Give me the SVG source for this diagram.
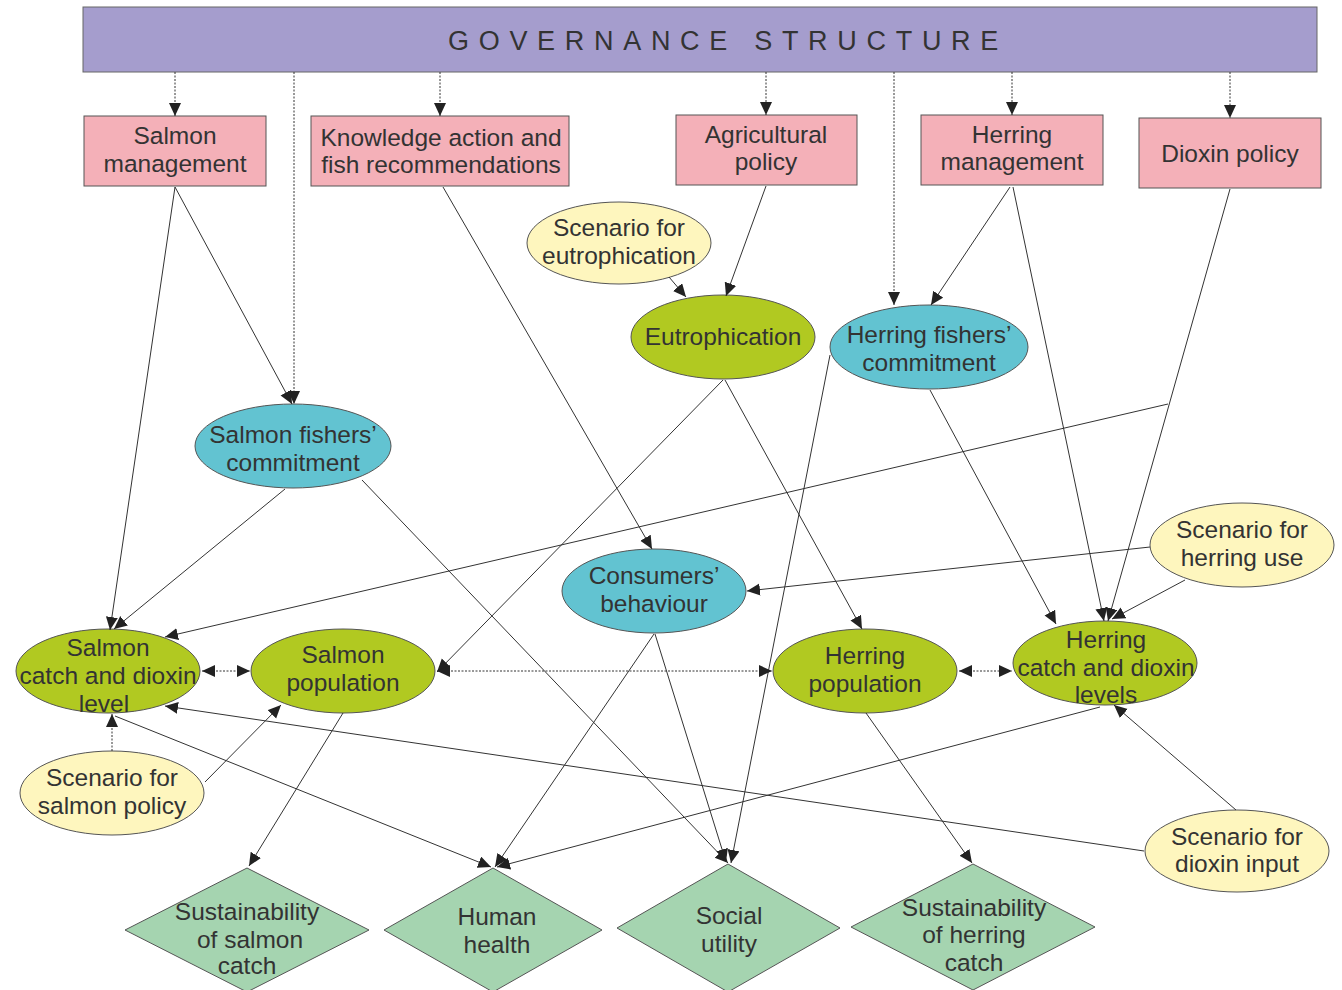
<svg xmlns="http://www.w3.org/2000/svg" width="1342" height="990" viewBox="0 0 1342 990">
<style>
  .t { font-family: "Liberation Sans", Arial, sans-serif; font-size: 24.5px; fill: #333; text-anchor: middle; }
  .banner { fill: #a59dcd; stroke: #666; stroke-width: 1; }
  .pink { fill: #f4b0b8; stroke: #555; stroke-width: 1; }
  .yellow { fill: #fef6be; stroke: #555; stroke-width: 1; }
  .green { fill: #b1c921; stroke: #555; stroke-width: 1; }
  .blue { fill: #62c3d1; stroke: #555; stroke-width: 1; }
  .dia { fill: #a5d4b0; stroke: #555; stroke-width: 1; }
  .c { fill: none; stroke: #333; stroke-width: 1; marker-end: url(#ah); }
  .d { stroke-dasharray: 2 1.5; }
  .both { marker-start: url(#ahs); }
</style>
<defs>
  <marker id="ah" markerUnits="userSpaceOnUse" markerWidth="16" markerHeight="14" refX="13" refY="6" orient="auto">
    <path d="M0,0 L13,6 L0,12 z" fill="#222"/>
  </marker>
  <marker id="ahs" markerUnits="userSpaceOnUse" markerWidth="16" markerHeight="14" refX="13" refY="6" orient="auto-start-reverse">
    <path d="M0,0 L13,6 L0,12 z" fill="#222"/>
  </marker>
</defs>
<rect width="1342" height="990" fill="#fff"/>

<g id="governance">
  <rect class="banner" x="83" y="7" width="1234" height="65"/>
  <text class="t" x="728" y="50" style="font-size:27px;letter-spacing:9.7px">GOVERNANCE STRUCTURE</text>
</g>

<g id="salmon-management">
  <rect class="pink" x="84" y="116" width="182" height="70"/>
  <text class="t" x="175" y="144">Salmon</text>
  <text class="t" x="175" y="172">management</text>
</g>
<g id="knowledge">
  <rect class="pink" x="311" y="116" width="258" height="70"/>
  <text class="t" x="441" y="146">Knowledge action and</text>
  <text class="t" x="441" y="173">fish recommendations</text>
</g>
<g id="agricultural-policy">
  <rect class="pink" x="676" y="115" width="181" height="70"/>
  <text class="t" x="766" y="143">Agricultural</text>
  <text class="t" x="766" y="170">policy</text>
</g>
<g id="herring-management">
  <rect class="pink" x="921" y="115" width="182" height="70"/>
  <text class="t" x="1012" y="143">Herring</text>
  <text class="t" x="1012" y="170">management</text>
</g>
<g id="dioxin-policy">
  <rect class="pink" x="1139" y="118" width="182" height="70"/>
  <text class="t" x="1230" y="162">Dioxin policy</text>
</g>

<g id="scenario-eutrophication">
  <ellipse class="yellow" cx="619" cy="243" rx="92" ry="41"/>
  <text class="t" x="619" y="236">Scenario for</text>
  <text class="t" x="619" y="264">eutrophication</text>
</g>
<g id="eutrophication">
  <ellipse class="green" cx="723" cy="337" rx="92" ry="42"/>
  <text class="t" x="723" y="345">Eutrophication</text>
</g>
<g id="herring-fishers">
  <ellipse class="blue" cx="929" cy="347" rx="99" ry="42"/>
  <text class="t" x="929" y="343">Herring fishers’</text>
  <text class="t" x="929" y="371">commitment</text>
</g>
<g id="salmon-fishers">
  <ellipse class="blue" cx="293" cy="446" rx="98" ry="42"/>
  <text class="t" x="293" y="443">Salmon fishers’</text>
  <text class="t" x="293" y="471">commitment</text>
</g>
<g id="consumers">
  <ellipse class="blue" cx="654" cy="591" rx="92" ry="42"/>
  <text class="t" x="654" y="584">Consumers’</text>
  <text class="t" x="654" y="612">behaviour</text>
</g>
<g id="scenario-herring-use">
  <ellipse class="yellow" cx="1242" cy="545" rx="92" ry="42"/>
  <text class="t" x="1242" y="538">Scenario for</text>
  <text class="t" x="1242" y="566">herring use</text>
</g>
<g id="salmon-catch">
  <ellipse class="green" cx="108" cy="671" rx="92" ry="42"/>
  <text class="t" x="108" y="656">Salmon</text>
  <text class="t" x="108" y="684">catch and dioxin</text>
  <text class="t" x="104" y="712">level</text>
</g>
<g id="salmon-population">
  <ellipse class="green" cx="343" cy="671" rx="92" ry="42"/>
  <text class="t" x="343" y="663">Salmon</text>
  <text class="t" x="343" y="691">population</text>
</g>
<g id="herring-population">
  <ellipse class="green" cx="865" cy="671" rx="92" ry="42"/>
  <text class="t" x="865" y="664">Herring</text>
  <text class="t" x="865" y="692">population</text>
</g>
<g id="herring-catch">
  <ellipse class="green" cx="1105" cy="663" rx="92" ry="42"/>
  <text class="t" x="1106" y="648">Herring</text>
  <text class="t" x="1106" y="676">catch and dioxin</text>
  <text class="t" x="1106" y="703">levels</text>
</g>
<g id="scenario-salmon-policy">
  <ellipse class="yellow" cx="112" cy="793" rx="92" ry="42"/>
  <text class="t" x="112" y="786">Scenario for</text>
  <text class="t" x="112" y="814">salmon policy</text>
</g>
<g id="scenario-dioxin-input">
  <ellipse class="yellow" cx="1237" cy="851" rx="92" ry="41"/>
  <text class="t" x="1237" y="845">Scenario for</text>
  <text class="t" x="1237" y="872">dioxin input</text>
</g>

<g id="sustainability-salmon">
  <polygon class="dia" points="247,868 369,930 247,992 125,930"/>
  <text class="t" x="247" y="920">Sustainability</text>
  <text class="t" x="250" y="948">of salmon</text>
  <text class="t" x="247" y="974">catch</text>
</g>
<g id="human-health">
  <polygon class="dia" points="493,868 602,930 493,992 384,930"/>
  <text class="t" x="497" y="925">Human</text>
  <text class="t" x="497" y="953">health</text>
</g>
<g id="social-utility">
  <polygon class="dia" points="728,864 840,928 728,992 617,928"/>
  <text class="t" x="729" y="924">Social</text>
  <text class="t" x="729" y="952">utility</text>
</g>
<g id="sustainability-herring">
  <polygon class="dia" points="973,864 1095,927 973,990 851,927"/>
  <text class="t" x="974" y="916">Sustainability</text>
  <text class="t" x="974" y="943">of herring</text>
  <text class="t" x="974" y="971">catch</text>
</g>

<g id="connectors">
  <path class="c d" d="M175,72 V116"/>
  <path class="c d" d="M440,72 V116"/>
  <path class="c d" d="M766,72 V115"/>
  <path class="c d" d="M1012,72 V115"/>
  <path class="c d" d="M1230,72 V118"/>
  <path class="c d" d="M294,72 V404"/>
  <path class="c d" d="M894,72 V305"/>

  <path class="c" d="M175,187 L110,630"/>
  <path class="c" d="M175,187 L292,404"/>
  <path class="c" d="M285,489 L114,629"/>
  <path class="c" d="M362,480 L728,863"/>
  <path class="c" d="M443,187 L652,549"/>
  <path class="c" d="M766,186 L726,296"/>
  <path class="c" d="M669,277 L686,297"/>
  <path class="c" d="M723,380 L437,672"/>
  <path class="c" d="M725,380 L862,629"/>
  <path class="c" d="M1010,187 L931,305"/>
  <path class="c" d="M1013,187 L1104,621"/>
  <path class="c" d="M1230,189 L1108,621"/>
  <path class="c" d="M1168,404 L165,637"/>
  <path class="c" d="M930,390 L1056,624"/>
  <path class="c" d="M830,355 L731,863"/>
  <path class="c" d="M1150,547 L747,591"/>
  <path class="c" d="M1185,580 L1112,619"/>
  <path class="c d both" d="M202,671 L250,671"/>
  <path class="c d both" d="M959,671 L1012,671"/>
  <path class="c d both" d="M437,671 L772,671"/>
  <path class="c" d="M343,713 L249,866"/>
  <path class="c d" d="M112,751 L112,714"/>
  <path class="c" d="M205,782 L281,705"/>
  <path class="c" d="M115,716 L491,867"/>
  <path class="c" d="M654,634 L495,867"/>
  <path class="c" d="M655,634 L726,862"/>
  <path class="c" d="M1100,707 L497,867"/>
  <path class="c" d="M1144,851 L165,706"/>
  <path class="c" d="M1236,810 L1114,705"/>
  <path class="c" d="M866,713 L972,863"/>
</g>
</svg>
